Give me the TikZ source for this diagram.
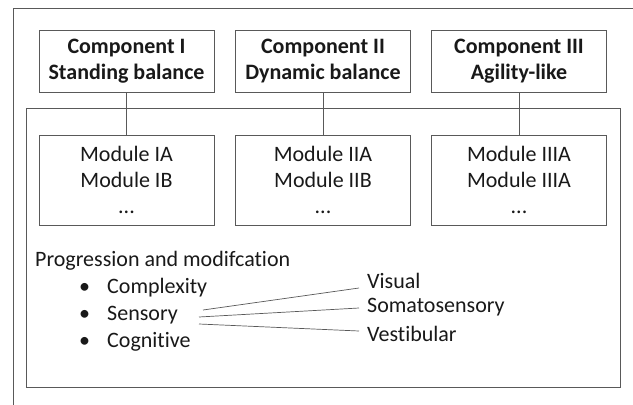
\documentclass[tikz,border=0pt]{standalone}
\usepackage{fontspec}
\setmainfont[Ligatures=NoCommon]{Carlito}
\usetikzlibrary{calc}
\begin{document}
\begin{tikzpicture}[x=1pt,y=-1pt,
  line/.style={draw=black!65,line width=0.9pt},
  compbox/.style={line,minimum width=175pt,minimum height=62pt,inner sep=0pt,align=center,font=\fontsize{22}{26}\selectfont\bfseries,text=black!90},
  modbox/.style={line,minimum width=175pt,minimum height=90pt,inner sep=0pt,align=center,font=\fontsize{22}{26}\selectfont,text=black!90},
  txt/.style={inner sep=0pt,anchor=west,font=\fontsize{22}{26}\selectfont,text=black!90}]
\useasboundingbox (0,0) rectangle (633,405);
\fill[white] (0,0) rectangle (633,405);
% outer frame (partially visible)
\coordinate (ofbl) at (13,405);
\coordinate (oftl) at (13,8);
\coordinate (oftr) at (633,8);
\draw[line] (ofbl) -- (oftl) -- (oftr);
% inner frame
\node[line,minimum width=594pt,minimum height=279pt,inner sep=0pt] (inner) at (323,247.5) {};
% components
\node[compbox] (c1) at (126.5,61) {Component I\\Standing balance};
\node[compbox] (c2) at (323,61) {Component II\\Dynamic balance};
\node[compbox] (c3) at (519,61) {Component III\\Agility-like};
% modules
\node[modbox] (m1) at (126.5,180) {Module IA\\Module IB\\...};
\node[modbox] (m2) at (323,180) {Module IIA\\Module IIB\\...};
\node[modbox] (m3) at (519,180) {Module IIIA\\Module IIIA\\...};
\draw[line] (c1) -- (m1);
\draw[line] (c2) -- (m2);
\draw[line] (c3) -- (m3);
% progression
\node[txt] (prog) at (35,261) {Progression and modifcation};
\node[txt] (b1) at (79,288) {\textbullet};
\node[txt] (b2) at (79,315) {\textbullet};
\node[txt] (b3) at (79,342) {\textbullet};
\node[txt] (cx) at (107,288) {Complexity};
\node[txt] (se) at (107,315) {Sensory};
\node[txt] (co) at (107,342) {Cognitive};
\node[txt] (vi) at (367,281) {Visual};
\node[txt] (so) at (367,307) {Somatosensory};
\node[txt] (ve) at (367,334) {Vestibular};
\coordinate (s1) at (203,310);
\coordinate (s2) at (199,317);
\coordinate (s3) at (199,324);
\draw[line,line width=0.7pt] (s1) -- ($(vi.west)+(-8,7)$);
\draw[line,line width=0.7pt] (s2) -- ($(so.west)+(-8,1)$);
\draw[line,line width=0.7pt] (s3) -- ($(ve.west)+(-8,-3)$);
\end{tikzpicture}
\end{document}
